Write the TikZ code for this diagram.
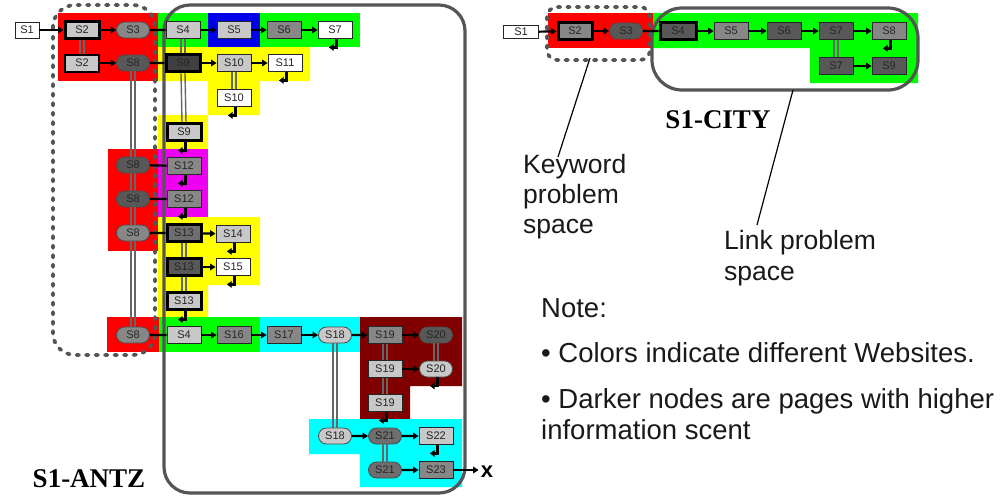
\documentclass[tikz,border=0pt]{standalone}
\usepackage{fontspec}
\setmainfont{Liberation Sans}
\newfontfamily\tnr{Liberation Serif}
\usetikzlibrary{arrows.meta,shapes.misc}
\pgfdeclarelayer{bg}
\pgfsetlayers{bg,main}
\definecolor{cR}{RGB}{255,0,0}
\definecolor{cG}{RGB}{0,255,0}
\definecolor{cB}{RGB}{0,0,235}
\definecolor{cY}{RGB}{255,255,0}
\definecolor{cM}{RGB}{240,0,240}
\definecolor{cC}{RGB}{0,255,255}
\definecolor{cMr}{RGB}{128,0,0}
\definecolor{gL}{RGB}{200,200,200}
\definecolor{gM}{RGB}{135,135,135}
\definecolor{gD}{RGB}{88,88,88}
\definecolor{gV}{RGB}{64,64,64}
\definecolor{g6}{RGB}{110,110,110}
\definecolor{frame}{RGB}{85,85,85}
\newcommand{\dblv}[2]{\draw[dline] ([xshift=-2pt]#1.south) -- ([xshift=-2pt]#2.north);\draw[dline] ([xshift=2pt]#1.south) -- ([xshift=2pt]#2.north);}
\newcommand{\retar}[1]{\draw[retl] ([xshift=1.5pt]#1.south) -- ++(0,8.5) -- ++(-7.5,0);}
\tikzset{
  bx/.style={draw=black!85, line width=0.8pt, minimum width=34pt, minimum height=17pt, inner sep=0pt, font=\fontsize{11}{12}\selectfont, text=black!85},
  el/.style={bx, rounded rectangle, minimum width=33pt, minimum height=16pt, draw=black!70},
  thk/.style={line width=3pt, draw=black},
  fW/.style={fill=white}, fL/.style={fill=gL}, fM/.style={fill=gM}, fD/.style={fill=gD}, fV/.style={fill=gV},
  arr/.style={line width=2.2pt, -{Triangle[length=5.5pt,width=6.5pt]}},
  ln/.style={line width=2.2pt},
  dline/.style={line width=1.4pt, draw=black!60},
  retl/.style={line width=2.2pt, -{Triangle[length=4.5pt,width=6.5pt]}},
  rr/.style={draw=frame, line width=3.2pt},
  dotrr/.style={draw=frame, line width=3.8pt, line cap=round, dash pattern=on 2.5pt off 7pt},
  lab/.style={anchor=base west, font=\fontsize{26.5}{30}\selectfont, inner sep=0pt, text=black!90},
  note/.style={anchor=base west, font=\fontsize{27.5}{30}\selectfont, inner sep=0pt, text=black!90},
  ttl/.style={anchor=base, font=\tnr\bfseries\fontsize{27}{30}\selectfont, inner sep=0pt},
}
\begin{document}
\begin{tikzpicture}[x=1pt,y=-1pt]
\useasboundingbox (0,0) rectangle (1004,496);
\begin{pgfonlayer}{bg}
% left backgrounds
\fill[cR] (58,13) rectangle (158,81);
\fill[cG] (158,13) rectangle (360,47);
\fill[cB] (208,13) rectangle (260,48);
\fill[cY] (158,47) -- (310,47) -- (310,81) -- (260,81) -- (260,115) -- (208,115) -- (208,81) -- (158,81) -- cycle;
\fill[cY] (158,115) rectangle (208,149);
\fill[cR] (108,149) rectangle (158,251);
\fill[cM] (158,149) rectangle (208,217);
\fill[cY] (158,217) -- (260,217) -- (260,285) -- (208,285) -- (208,317) -- (158,317) -- cycle;
\fill[cR] (107,317) rectangle (159,352);
\fill[cG] (159,317) rectangle (260,352);
\fill[cC] (260,317) rectangle (360,352);
\fill[cMr] (360,317) -- (462,317) -- (462,386) -- (410,386) -- (410,419) -- (360,419) -- cycle;
\fill[cC] (309,419) -- (462,419) -- (462,487) -- (360,487) -- (360,454) -- (309,454) -- cycle;
% right backgrounds
\fill[cR] (548,13) rectangle (653,48);
\fill[cG] (653,13) -- (918,13) -- (918,83) -- (810,83) -- (810,48) -- (653,48) -- cycle;
% frames
\draw[dotrr, rounded corners=22pt] (53,5) rectangle (155,355);
\draw[rr, rounded corners=26pt] (164,5) rectangle (465,493);
\draw[dotrr, rounded corners=10pt] (547,7) rectangle (650,60);
\draw[rr, rounded corners=30pt] (652,8) rectangle (918,90);
\end{pgfonlayer}

% ---------- left diagram ----------
\node[bx,fW,minimum width=24pt,minimum height=16pt] (L1) at (27,30) {S1};
\node[bx,fL,thk] (L2a) at (82,30) {S2};
\node[el,fM] (L3) at (133,30) {S3};
\node[bx,fL] (L4a) at (183,30) {S4};
\node[bx,fL] (L5) at (234,30) {S5};
\node[bx,fM] (L6) at (284,30) {S6};
\node[bx,fW] (L7) at (335,30) {S7};
\node[bx,fL,draw=black,line width=2pt] (L2b) at (82,63) {S2};
\node[el,fD] (L0) at (133,63) {S8};
\node[bx,fV,thk] (L9a) at (183,63) {S9};
\node[bx,fL] (L10a) at (234,63) {S10};
\node[bx,fW] (L11) at (285,63) {S11};
\node[bx,fW] (L10b) at (234,98) {S10};
\node[bx,fL,thk] (L9b) at (184,132) {S9};
\node[el,fD] (L8a) at (133,165) {S8};
\node[bx,fM] (L12a) at (184,166) {S12};
\node[el,fD] (L8b) at (133,199) {S8};
\node[bx,fM] (L12b) at (184,199) {S12};
\node[el,fM] (L8c) at (133,233) {S8};
\node[bx,fill=g6,thk] (L13a) at (184,233) {S13};
\node[bx,fL] (L14) at (233,234) {S14};
\node[bx,fD,thk] (L13b) at (184,267) {S13};
\node[bx,fW] (L15) at (233,267) {S15};
\node[bx,fL,thk] (L13c) at (184,301) {S13};
\node[el,fM] (L8d) at (133,335) {S8};
\node[bx,fL] (L4b) at (184,335) {S4};
\node[bx,fM] (L16) at (234,335) {S16};
\node[bx,fM] (L17) at (284,335) {S17};
\node[el,fL] (L18a) at (335,335) {S18};
\node[bx,fM] (L19a) at (385,335) {S19};
\node[el,fD] (L20a) at (436,335) {S20};
\node[bx,fL] (L19b) at (385,369) {S19};
\node[el,fL] (L20b) at (436,369) {S20};
\node[bx,fL] (L19c) at (385,403) {S19};
\node[el,fL] (L18b) at (335,436) {S18};
\node[el,fill=g6] (L21a) at (385,436) {S21};
\node[bx,fL] (L22) at (436,436) {S22};
\node[el,fill=g6] (L21b) at (385,470) {S21};
\node[bx,fM] (L23) at (436,470) {S23};
\node[anchor=base, font=\bfseries\fontsize{22}{22}\selectfont, inner sep=2pt] (X) at (487,477) {x};
\node[ttl] (antz) at (89,487) {S1-ANTZ};

% left connectors
\draw[arr] (L1) -- (L2a);
\draw[arr] (L2a) -- (L3);
\draw[ln] (L3) -- (L4a);
\draw[arr] (L4a) -- (L5);
\draw[arr] (L5) -- (L6);
\draw[arr] (L6) -- (L7);
\retar{L7}
\draw[arr] (L2b) -- (L0);
\draw[ln] (L0) -- (L9a);
\draw[arr] (L9a) -- (L10a);
\draw[arr] (L10a) -- (L11);
\retar{L11}
\retar{L10b}
\dblv{L2a}{L2b}
\dblv{L4a}{L9a}
\dblv{L9a}{L9b}
\dblv{L10a}{L10b}
\dblv{L0}{L8a}
\dblv{L8a}{L8b}
\dblv{L8b}{L8c}
\dblv{L8c}{L8d}
\retar{L9b}
\draw[ln] (L8a) -- (L12a);
\draw[ln] (L8b) -- (L12b);
\draw[ln] (L8c) -- (L13a);
\retar{L12a}
\retar{L12b}
\draw[arr] (L13a) -- (L14);
\retar{L14}
\draw[arr] (L13b) -- (L15);
\retar{L15}
\dblv{L13a}{L13b}
\dblv{L13b}{L13c}
\retar{L13c}
\draw[ln] (L8d) -- (L4b);
\draw[arr] (L4b) -- (L16);
\draw[arr] (L16) -- (L17);
\draw[arr] (L17) -- (L18a);
\draw[arr] (L18a) -- (L19a);
\draw[arr] (L19a) -- (L20a);
\dblv{L20a}{L20b}
\dblv{L19a}{L19b}
\dblv{L19b}{L19c}
\draw[arr] (L19b) -- (L20b);
\retar{L20b}
\retar{L19c}
\dblv{L18a}{L18b}
\draw[arr] (L18b) -- (L21a);
\draw[arr] (L21a) -- (L22);
\retar{L22}
\dblv{L21a}{L21b}
\draw[arr] (L21b) -- (L23);
\draw[arr] (L23) -- (L23 -| X.west);

% ---------- right diagram ----------
\node[bx,fW,minimum width=35pt,minimum height=13pt] (R1) at (521,32) {S1};
\node[bx,fM,thk] (R2) at (575,31) {S2};
\node[el,fD] (R3) at (626,31) {S3};
\node[bx,fD,thk,minimum width=36pt] (R4) at (678,31) {S4};
\node[bx,fM] (R5) at (731,31) {S5};
\node[bx,fD] (R6) at (784,31) {S6};
\node[bx,fD] (R7a) at (836,31) {S7};
\node[bx,fM] (R8) at (889,31) {S8};
\node[bx,fD] (R7b) at (836,66) {S7};
\node[bx,fD] (R9) at (889,66) {S9};
\draw[arr] (R1) -- (R2);
\draw[arr] (R2) -- (R3);
\draw[ln] (R3) -- (R4);
\draw[arr] (R4) -- (R5);
\draw[arr] (R5) -- (R6);
\draw[arr] (R6) -- (R7a);
\draw[arr] (R7a) -- (R8);
\retar{R8}
\dblv{R7a}{R7b}
\draw[arr] (R7b) -- (R9);

\node[ttl] (city) at (718,128) {S1-CITY};

% labels
\node[lab] (kw1) at (523,173) {Keyword};
\node[lab] (kw2) at (523,203) {problem};
\node[lab] (kw3) at (523,233) {space};
\node[lab] (lk1) at (724,249) {Link problem};
\node[lab] (lk2) at (724,280) {space};
\coordinate (kA) at (590,58);
\coordinate (kB) at (558,157);
\coordinate (lA) at (793,90);
\coordinate (lB) at (757,225);
\draw[line width=1.2pt] (kA) -- (kB);
\draw[line width=1.2pt] (lA) -- (lB);

\node[note] (n0) at (541,317) {Note:};
\node[note] (n1) at (541,362) {\textbullet\ Colors indicate different Websites.};
\node[note] (n2) at (541,408) {\textbullet\ Darker nodes are pages with higher};
\node[note] (n3) at (541,439) {information scent};
\end{tikzpicture}
\end{document}
